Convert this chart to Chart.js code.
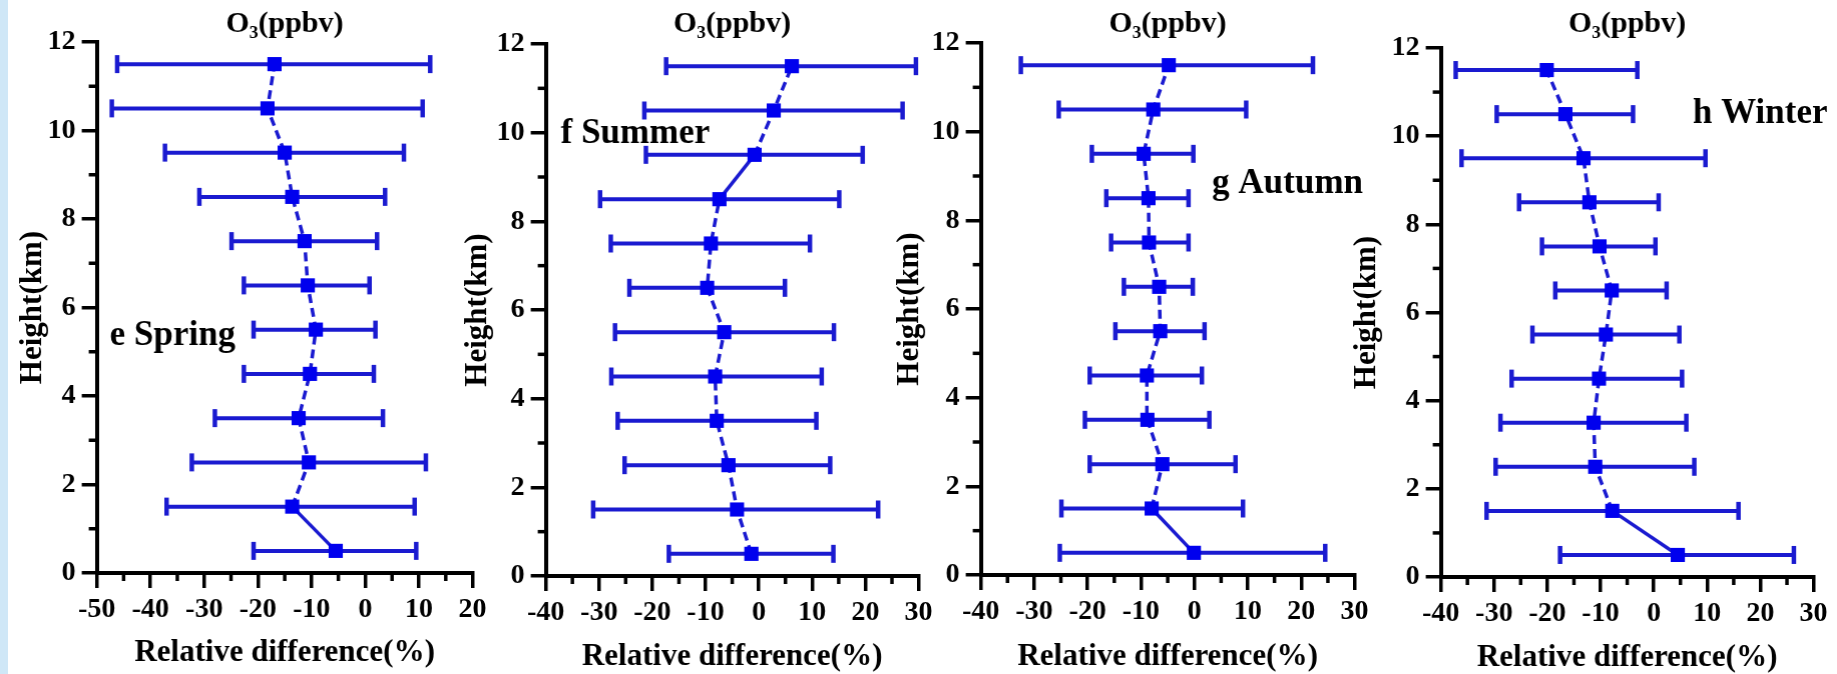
<!DOCTYPE html>
<html>
<head>
<meta charset="utf-8">
<script src="https://cdn.jsdelivr.net/npm/chart.js@4.4.1/dist/chart.umd.min.js"></script>
<style>
  html, body { margin: 0; padding: 0; background: #fff; }
  #page { position: relative; width: 1837px; height: 674px; overflow: hidden; background: #fff; }
  #edge { position: absolute; left: 0; top: 0; width: 8px; height: 674px; background: #cfe7f7; }
  .panel { position: absolute; top: 0; height: 674px; }
</style>
</head>
<body>
<div id="page"><div id="edge"></div></div>
<script>
// heights of the layer centres (km), bottom to top
const heights = [0.5, 1.5, 2.5, 3.5, 4.5, 5.5, 6.5, 7.5, 8.5, 9.5, 10.5, 11.5];

// relative difference (%) : mean, lower and upper end of the error bar
const springMean = [-5.5, -13.6, -10.5, -12.4, -10.3, -9.2, -10.7, -11.3, -13.6, -15.0, -18.2, -16.9];
const springLow  = [-20.8, -37.0, -32.3, -28.0, -22.6, -20.8, -22.6, -24.9, -30.9, -37.3, -47.2, -46.2];
const springHigh = [9.5, 9.2, 11.3, 3.3, 1.6, 1.9, 0.8, 2.2, 3.7, 7.2, 10.7, 12.1];

const summerMean = [-1.4, -4.1, -5.7, -7.9, -8.2, -6.5, -9.7, -9.0, -7.4, -0.8, 2.8, 6.2];
const summerLow  = [-16.9, -31.1, -25.2, -26.5, -27.7, -27.0, -24.3, -27.8, -29.8, -21.2, -21.5, -17.4];
const summerHigh = [14.0, 22.4, 13.4, 10.8, 11.8, 14.1, 4.9, 9.6, 15.1, 19.5, 27.0, 29.5];

const autumnMean = [-0.1, -8.0, -6.0, -8.8, -8.9, -6.4, -6.6, -8.5, -8.6, -9.5, -7.7, -4.8];
const autumnLow  = [-25.2, -24.9, -19.6, -20.5, -19.6, -14.8, -13.2, -15.6, -16.5, -19.2, -25.4, -32.5];
const autumnHigh = [24.5, 9.1, 7.7, 2.8, 1.4, 1.9, -0.3, -1.1, -1.1, -0.2, 9.7, 22.2];

const winterMean = [4.5, -7.8, -11.0, -11.3, -10.3, -9.0, -7.9, -10.2, -12.1, -13.2, -16.6, -20.1];
const winterLow  = [-17.6, -31.4, -29.7, -28.8, -26.7, -22.8, -18.5, -21.0, -25.3, -36.1, -29.5, -37.2];
const winterHigh = [26.3, 15.9, 7.6, 6.1, 5.3, 4.8, 2.4, 0.3, 0.9, 9.7, -3.9, -3.1];

// x axis ranges (tick labels every 10)
const xMins = [-50, -40, -40, -40];
const xMaxs = [20, 30, 30, 30];

const seasonNames = ["e Spring", "f Summer", "g Autumn", "h Winter"];
const titleText = "O\u2083(ppbv)";
const xTitle = "Relative difference(%)";
const yTitle = "Height(km)";

const FONT = "'Liberation Serif', 'Times New Roman', 'DejaVu Serif', serif";
const LINE = "#1a1ad0";
const MARK = "#0000ee";
Chart.defaults.font.family = FONT;
Chart.defaults.color = "#000";

// where each panel sits on the page (pixels)
const boxes = [
  { axis: 97,   right: 473,  top: 42, bottom: 573, yGap: 64, xTitleY: 653 },
  { axis: 546,  right: 919,  top: 44, bottom: 576, yGap: 68, xTitleY: 657 },
  { axis: 981,  right: 1355, top: 43, bottom: 575, yGap: 71, xTitleY: 657 },
  { axis: 1441, right: 1813, top: 48, bottom: 577, yGap: 74, xTitleY: 658, wide: true }
];

const panels = [
  { mean: springMean, low: springLow, high: springHigh, solid: [0], label: [-47.6, 5.15] },
  { mean: summerMean, low: summerLow, high: summerHigh, solid: [8], label: [-37.2, 9.77] },
  { mean: autumnMean, low: autumnLow, high: autumnHigh, solid: [0], label: [3.3, 8.62] },
  { mean: winterMean, low: winterLow, high: winterHigh, solid: [0], label: [7.3, 10.3] }
];

// minor ticks every 5 % and every 1 km
const minorTicks = {
  id: "minorTicks",
  afterDraw(chart) {
    const { ctx, scales: { x, y } } = chart;
    ctx.save();
    ctx.strokeStyle = "#000";
    ctx.lineWidth = 3.5;
    for (let v = x.min + 5; v < x.max; v += 10) {
      const px = x.getPixelForValue(v);
      ctx.beginPath();
      ctx.moveTo(px, x.top);
      ctx.lineTo(px, x.top + 8);
      ctx.stroke();
    }
    for (let v = y.min + 1; v < y.max; v += 2) {
      const py = y.getPixelForValue(v);
      ctx.beginPath();
      ctx.moveTo(y.right - 8, py);
      ctx.lineTo(y.right, py);
      ctx.stroke();
    }
    ctx.restore();
  }
};

const seasonLabel = {
  id: "seasonLabel",
  afterDraw(chart, args, o) {
    const { ctx, scales: { x, y } } = chart;
    ctx.save();
    ctx.font = "bold 35px " + FONT;
    ctx.fillStyle = "#000";
    ctx.textAlign = "left";
    ctx.textBaseline = "alphabetic";
    ctx.fillText(o.text, x.getPixelForValue(o.x), y.getPixelForValue(o.y));
    ctx.restore();
  }
};

const page = document.getElementById("page");

panels.forEach((p, i) => {
  const b = boxes[i];
  const left = b.axis - b.yGap - 22.6;
  const width = (b.wide ? 1837 : b.right + 18) - left;

  const div = document.createElement("div");
  div.className = "panel";
  div.style.left = left + "px";
  div.style.width = width + "px";
  const canvas = document.createElement("canvas");
  div.appendChild(canvas);
  page.appendChild(div);

  const meanPoints = heights.map((h, k) => ({ x: p.mean[k], y: h }));
  const barPoints = heights.flatMap((h, k) => [
    { x: p.low[k], y: h },
    { x: p.high[k], y: h },
    { x: null, y: null }
  ]);

  new Chart(canvas, {
    type: "scatter",
    data: {
      datasets: [
        {
          data: meanPoints,
          showLine: true,
          borderColor: LINE,
          borderWidth: 3.5,
          segment: {
            borderDash: (c) => (p.solid.includes(c.p0DataIndex) ? [] : [9, 5])
          },
          pointStyle: "rect",
          pointRadius: 10,
          pointBackgroundColor: MARK,
          pointBorderWidth: 0,
          clip: false
        },
        {
          data: barPoints,
          showLine: true,
          spanGaps: false,
          borderColor: LINE,
          borderWidth: 4,
          pointStyle: "line",
          pointRotation: 90,
          pointRadius: 9,
          pointBorderColor: LINE,
          pointBorderWidth: 4.5,
          clip: false
        }
      ]
    },
    options: {
      responsive: true,
      maintainAspectRatio: false,
      animation: false,
      events: [],
      layout: { padding: { top: 2, left: 0, bottom: 0, right: width - (b.right - left) } },
      scales: {
        x: {
          type: "linear",
          min: xMins[i],
          max: xMaxs[i],
          ticks: {
            stepSize: 10,
            padding: 5,
            color: "#000",
            font: { size: 28, weight: "bold" },
            callback: (v) => String(v)
          },
          grid: {
            drawOnChartArea: false,
            drawTicks: true,
            tickLength: 15,
            lineWidth: 3.5,
            tickWidth: 3.5,
            tickColor: "#000"
          },
          border: { display: true, color: "#000", width: 4 },
          title: {
            display: true,
            text: xTitle,
            color: "#000",
            font: { size: 31, weight: "bold", lineHeight: 1 },
            padding: { top: 0, bottom: 674 - 15.5 - b.xTitleY }
          },
          afterFit: (s) => { s.height = 674 - b.bottom; }
        },
        y: {
          type: "linear",
          min: 0,
          max: 12,
          ticks: {
            stepSize: 2,
            padding: 6,
            color: "#000",
            font: { size: 28, weight: "bold" }
          },
          grid: {
            drawOnChartArea: false,
            drawTicks: true,
            tickLength: 15,
            lineWidth: 3.5,
            tickWidth: 3.5,
            tickColor: "#000"
          },
          border: { display: true, color: "#000", width: 4 },
          title: {
            display: true,
            text: yTitle,
            color: "#000",
            font: { size: 31, weight: "bold", lineHeight: 1.2 },
            padding: { top: 4, bottom: 0 }
          },
          afterFit: (s) => { s.width = b.axis - left; }
        }
      },
      plugins: {
        legend: { display: false },
        tooltip: { enabled: false },
        title: {
          display: true,
          text: titleText,
          fullSize: false,
          color: "#000",
          font: { size: 30, weight: "bold", lineHeight: 1.2 },
          padding: { top: 4, bottom: b.top - 42 }
        },
        seasonLabel: { text: seasonNames[i], x: p.label[0], y: p.label[1] }
      }
    },
    plugins: [minorTicks, seasonLabel]
  });
});
</script>
</body>
</html>
